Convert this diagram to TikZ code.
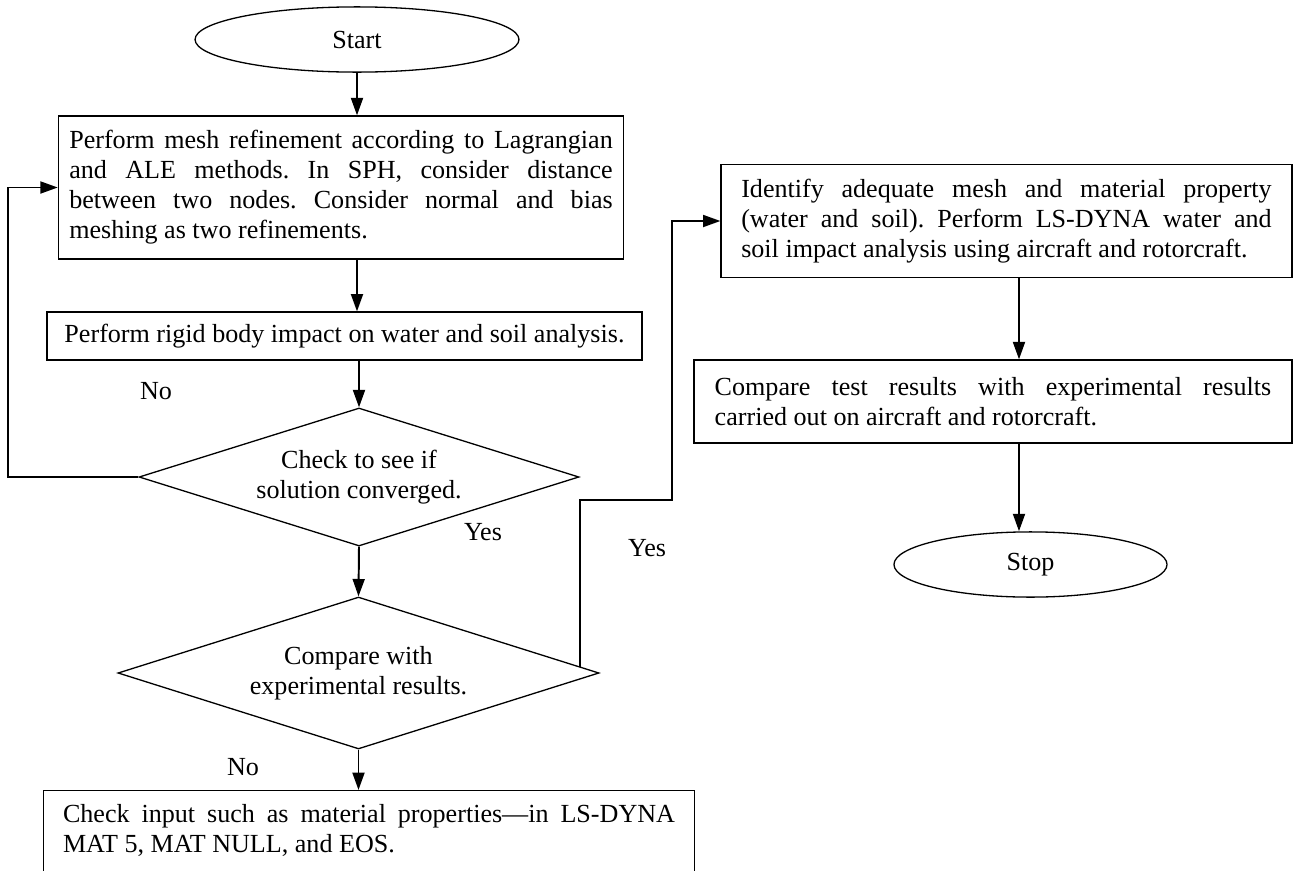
\documentclass[tikz,border=0pt]{standalone}
\usepackage{fontspec}
\setmainfont{Liberation Serif}
\usetikzlibrary{shapes.geometric}
\usetikzlibrary{arrows.meta}
\usetikzlibrary{calc}
\frenchspacing

\begin{document}
\begin{tikzpicture}[x=0.46pt,y=-0.46pt,>={Triangle[length=8pt,width=5.5pt]},
    font=\fontsize{12}{13.8}\selectfont,
    term node/.style={ellipse,draw,line width=0.6pt,inner sep=0pt,minimum height=30pt},
    proc box/.style={rectangle,draw,line width=0.6pt,align=justify,inner ysep=2pt},
    test node/.style={diamond,draw,line width=0.6pt,align=center,inner sep=0pt},
    flow/.style={->,line width=0.9pt}, tag/.style={inner sep=0pt}]
   \useasboundingbox (0,0) rectangle (1293,871);
   \begin{scope}
     % left column
     \node[term node,minimum width=149pt] (start) at (357,39.5) {Start};
     \node[proc box,text width=250pt,inner xsep=5pt,minimum height=65.8pt] (mesh) at (341,187.5)
       {Perform mesh refinement according to Lagrangian\linebreak and ALE methods. In SPH, consider distance\linebreak between two nodes. Consider normal and bias\linebreak meshing as two refinements.};
     \node[proc box,align=center,minimum width=273.7pt,minimum height=22pt] (rigid) at (344.5,336)
       {Perform rigid body impact on water and soil analysis.};
     \node[test node,aspect=3.2,minimum width=202.4pt,minimum height=63.5pt] (conv) at (359,477)
       {Check to see if\\solution converged.};
     \node[test node,aspect=3.17,minimum width=221.3pt,minimum height=69.9pt] (match) at (358.5,673)
       {Compare with\\experimental results.};
     \node[proc box,anchor=north,inner xsep=9pt,inner ysep=6.5pt] (input) at (369,790)
       {\parbox[c][42pt][t]{281.5pt}{Check input such as material properties---in LS-DYNA\linebreak MAT 5, MAT NULL, and EOS.}};
     % right column
     \node[proc box,text width=244pt,inner xsep=9.3pt,minimum height=52pt] (ident) at (1006.5,221)
       {Identify adequate mesh and material property\linebreak (water and soil). Perform LS-DYNA water and\linebreak soil impact analysis using aircraft and rotorcraft.};
     \node[proc box,text width=256pt,inner xsep=9.5pt,minimum height=38.2pt] (cmp) at (993,401.5)
       {Compare test results with experimental results\linebreak carried out on aircraft and rotorcraft.};
     \node[term node,minimum width=125.6pt] (stop) at (1030.5,564.5) {Stop};
     \coordinate (rcol) at (1019,0);
     \coordinate (yesfoot) at ($(match.north)!0.917!(match.east)$);

     \node[tag] (no1) at (156,391) {No};
     \node[tag] (yes1) at (483,532) {Yes};
     \node[tag] (yes2) at (647,548) {Yes};
     \node[tag] (no2) at (243,767) {No};

     \draw[flow] (start.south) -- (start.south |- mesh.north);
     \draw[flow] (mesh.south -| start) -- (rigid.north -| start);
     \draw[flow] (rigid.south -| conv) -- (conv.north);
     \draw[flow] (conv.south) -- (match.north);
     \draw[flow] (match.south) -- (input.north -| match.south);
     \draw[flow] (conv.west) -- ++(-130,0) |- (mesh.west);
     \draw[flow] (yesfoot) -- ++(0,-167) -- ++(92,0) |- (ident.west);
     \draw[flow] (ident.south -| rcol) -- (cmp.north -| rcol);
     \draw[flow] (cmp.south -| rcol) -- (stop.north -| rcol);
   \end{scope}
\end{tikzpicture}
\end{document}
